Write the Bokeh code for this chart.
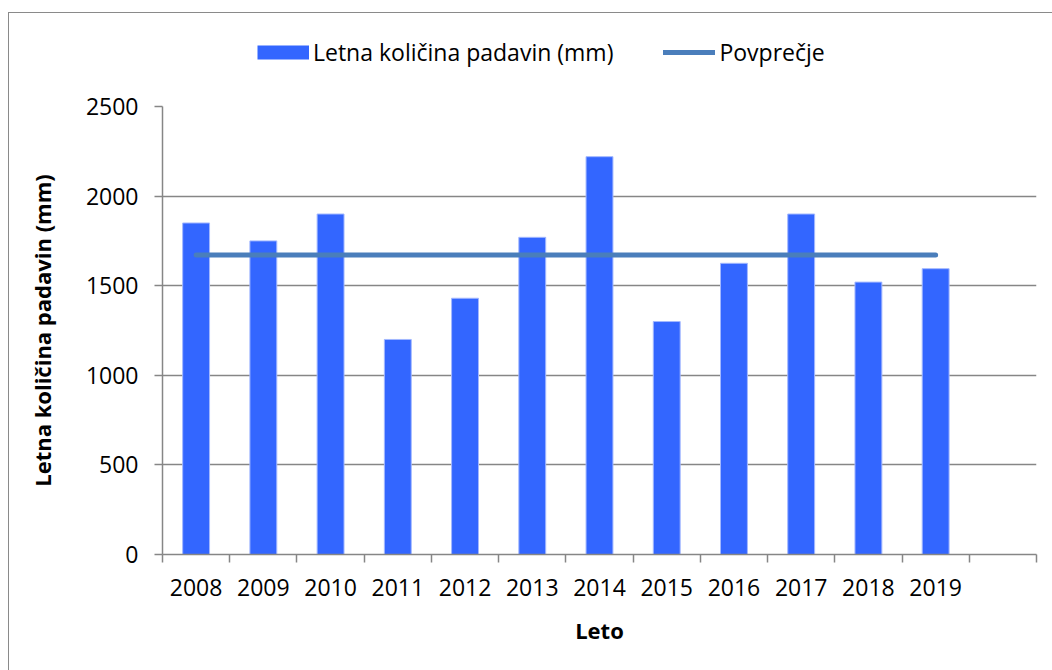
from bokeh.plotting import figure
from bokeh.layouts import column
from bokeh.models import ColumnDataSource, FixedTicker, Legend, LegendItem, Range1d
from bokeh.embed import file_html
from bokeh.resources import INLINE

# ---- data ----
years = ["2008", "2009", "2010", "2011", "2012", "2013",
         "2014", "2015", "2016", "2017", "2018", "2019"]
padavine = [1850, 1750, 1900, 1200, 1430, 1770, 2220, 1300, 1625, 1900, 1520, 1595]
n_slots = 13  # the category axis has one extra, empty slot
y_ticks = [0, 500, 1000, 1500, 2000, 2500]
bar_label = "Letna količina padavin (mm)"
avg_label = "Povprečje"
x_title = "Leto"
y_title = "Letna količina padavin (mm)"

povprecje = sum(padavine) / len(padavine)
xs = [i + 0.5 for i in range(len(years))]

src = ColumnDataSource(dict(x=xs, top=padavine, year=years))
avg_src = ColumnDataSource(dict(x=xs, y=[povprecje] * len(xs)))
swatch_src = ColumnDataSource(dict(x=xs[:1], y=padavine[:1]))

FONT = "Open Sans"
GRAY = "#868686"
BAR = "#3366ff"
LINE = "#4a7ebb"

W = 1043
LEG_H = 70
CH_H = 587

# ---------------- legend strip ----------------
lf = figure(width=W, height=LEG_H, output_backend="svg", toolbar_location=None,
            x_range=Range1d(0, 1), y_range=Range1d(0, 1), min_border=0,
            x_axis_location=None, y_axis_location=None)
lf.grid.visible = False
lf.outline_line_color = None
lf.border_fill_color = "white"
# proxies (their data lie outside this strip's ranges, so only the legend shows them)
bar_swatch = lf.line(x="x", y="y", source=swatch_src, line_color=BAR,
                     line_width=14, line_cap="butt")
avg_swatch = lf.line(x="x", y="y", source=avg_src, line_color=LINE,
                     line_width=5, line_cap="round")
legend = Legend(items=[LegendItem(label=bar_label, renderers=[bar_swatch]),
                       LegendItem(label=avg_label, renderers=[avg_swatch])],
                orientation="horizontal", location=(95, 15),
                padding=0, margin=0, spacing=50,
                glyph_width=52, glyph_height=32, label_height=32, label_standoff=4,
                border_line_color=None, background_fill_alpha=0,
                label_text_font=FONT, label_text_font_size="23px",
                label_text_color="black")
lf.add_layout(legend)

# ---------------- chart ----------------
p = figure(width=W, height=CH_H, output_backend="svg", toolbar_location=None,
           x_range=Range1d(0, n_slots), y_range=Range1d(y_ticks[0], y_ticks[-1]),
           min_border_left=153, min_border_right=16,
           min_border_top=23, min_border_bottom=116,
           x_axis_label=x_title, y_axis_label=y_title)
p.outline_line_color = None
p.background_fill_color = "white"
p.border_fill_color = "white"

bars = p.vbar(x="x", top="top", width=0.4, source=src,
              fill_color=BAR, line_color="#a3b8ff", line_width=1)
avg = p.line(x="x", y="y", source=avg_src, line_color=LINE, line_width=5,
             line_cap="round")

# x axis: labels at centres, ticks at the slot boundaries
p.xaxis.ticker = FixedTicker(ticks=xs, minor_ticks=list(range(n_slots + 1)))
p.xaxis.major_label_overrides = {float(x): y for x, y in zip(xs, years)}
p.xaxis.major_tick_in = 0
p.xaxis.major_tick_out = 0
p.xaxis.minor_tick_in = 0
p.xaxis.minor_tick_out = 8
p.xaxis.minor_tick_line_color = GRAY
p.xaxis.minor_tick_line_width = 1.5
p.xaxis.major_label_standoff = 16

p.yaxis.ticker = FixedTicker(ticks=y_ticks)
p.yaxis.major_tick_in = 0
p.yaxis.major_tick_out = 8
p.yaxis.minor_tick_line_color = None
p.yaxis.major_tick_line_color = GRAY
p.yaxis.major_tick_line_width = 1.5
p.yaxis.major_label_standoff = 16

for ax in (p.xaxis, p.yaxis):
    ax.axis_line_color = GRAY
    ax.axis_line_width = 1.5
    ax.major_label_text_font = FONT
    ax.major_label_text_font_size = "23px"
    ax.major_label_text_color = "black"
    ax.axis_label_text_font = FONT
    ax.axis_label_text_font_size = "22px"
    ax.axis_label_text_font_style = "bold"
    ax.axis_label_text_color = "black"
p.yaxis.axis_label_standoff = 26
p.xaxis.axis_label_standoff = 16

p.xgrid.visible = False
p.ygrid.ticker = FixedTicker(ticks=y_ticks)
p.ygrid.grid_line_color = GRAY
p.ygrid.grid_line_width = 1.5

page = column(lf, p, spacing=0,
              styles={"border-top": "1px solid #8a8a8a",
                      "border-left": "1px solid #8a8a8a",
                      "margin-top": "12px", "margin-left": "8px"})

open("out.html", "w").write(file_html(page, INLINE))
